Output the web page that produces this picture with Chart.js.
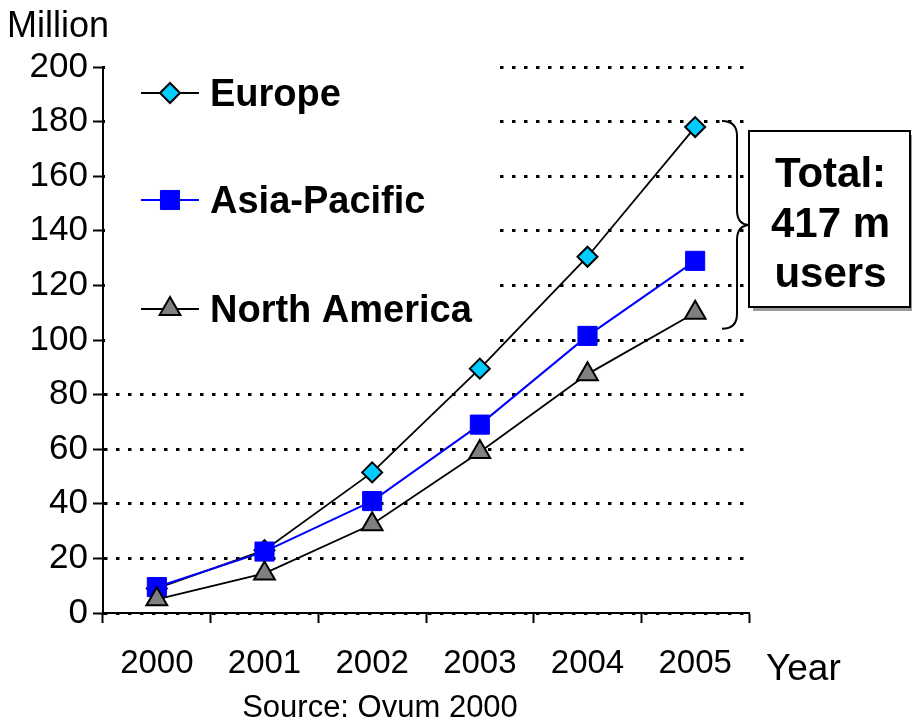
<!DOCTYPE html>
<html>
<head>
<meta charset="utf-8">
<script src="https://cdn.jsdelivr.net/npm/chart.js@4/dist/chart.umd.min.js"></script>
<style>
  html, body { margin: 0; padding: 0; background: #fff; }
  #wrap { width: 912px; height: 721px; position: relative; }
</style>
</head>
<body>
<div id="wrap"><canvas id="c" width="912" height="721"></canvas></div>
<script>
// Mobile users by region, in millions
const years = ['2000', '2001', '2002', '2003', '2004', '2005'];
const europe = [9, 23, 51.5, 89.5, 130.5, 178];
const asiaPacific = [9.5, 22.5, 41, 69, 101.5, 129];
const northAmerica = [5, 14.5, 32.5, 59, 87.5, 110];
const yTickValues = [0, 20, 40, 60, 80, 100, 120, 140, 160, 180, 200];
const seriesNames = ['Europe', 'Asia-Pacific', 'North America'];
const totalLines = ['Total:', '417 m', 'users'];
const unitLabel = 'Million';
const xAxisLabel = 'Year';
const sourceNote = 'Source: Ovum 2000';

const FONT = '"Liberation Sans", Arial, sans-serif';

// Legend panel, annotation brace/box and free text
const decorations = {
  id: 'decorations',
  beforeDatasetsDraw(chart) {
    const ctx = chart.ctx;
    const yS = chart.scales.y;
    ctx.save();
    // white panel behind the legend hides the dotted grid there
    ctx.fillStyle = '#fff';
    ctx.fillRect(chart.chartArea.left + 2, yS.getPixelForValue(200) - 8, 392, yS.getPixelForValue(100) - yS.getPixelForValue(200) + 12);
    ctx.restore();
  },
  afterDatasetsDraw(chart) {
    const ctx = chart.ctx;
    const yS = chart.scales.y;
    ctx.save();

    // legend entries
    const rowY = [93, 200, 309];
    chart.data.datasets.forEach((ds, i) => {
      const y = rowY[i];
      ctx.strokeStyle = ds.borderColor;
      ctx.lineWidth = ds.borderWidth;
      ctx.setLineDash([]);
      ctx.beginPath();
      ctx.moveTo(141, y);
      ctx.lineTo(199, y);
      ctx.stroke();
      ctx.fillStyle = ds.pointBackgroundColor;
      ctx.strokeStyle = ds.pointBorderColor;
      ctx.lineWidth = ds.pointBorderWidth;
      Chart.helpers.drawPoint(ctx, { pointStyle: ds.pointStyle, radius: ds.pointRadius, borderWidth: ds.pointBorderWidth }, 170, y);
      ctx.fillStyle = '#000';
      ctx.font = 'bold 38px ' + FONT;
      ctx.textAlign = 'left';
      ctx.textBaseline = 'alphabetic';
      ctx.fillText(seriesNames[i], 210, y + 13);
    });

    // brace grouping the 2005 values
    const bx = 737;
    const top = yS.getPixelForValue(europe[5]) - 6;
    const bot = yS.getPixelForValue(northAmerica[5]) + 16;
    const mid = (top + bot) / 2;
    ctx.strokeStyle = '#000';
    ctx.lineWidth = 2;
    ctx.beginPath();
    ctx.moveTo(722, top);
    ctx.quadraticCurveTo(bx, top, bx, top + 15);
    ctx.lineTo(bx, mid - 15);
    ctx.quadraticCurveTo(bx, mid, bx + 13, mid);
    ctx.quadraticCurveTo(bx, mid, bx, mid + 15);
    ctx.lineTo(bx, bot - 15);
    ctx.quadraticCurveTo(bx, bot, 722, bot);
    ctx.stroke();

    // total box with shadow
    const bxL = 749, bxT = 131, bxW = 161, bxH = 176;
    ctx.fillStyle = '#9a9a9a';
    ctx.fillRect(bxL + 4, bxT + 4, bxW, bxH);
    ctx.fillStyle = '#fff';
    ctx.fillRect(bxL, bxT, bxW, bxH);
    ctx.strokeRect(bxL, bxT, bxW, bxH);
    ctx.fillStyle = '#000';
    ctx.font = 'bold 42px ' + FONT;
    ctx.textAlign = 'center';
    totalLines.forEach((t, i) => ctx.fillText(t, bxL + bxW / 2 + 1, 187 + i * 50));

    // axis captions and source
    ctx.font = '36px ' + FONT;
    ctx.textAlign = 'left';
    ctx.fillText(unitLabel, 7, 37);
    ctx.font = '37px ' + FONT;
    ctx.fillText(xAxisLabel, 766, 680);
    ctx.font = '31px ' + FONT;
    ctx.textAlign = 'center';
    ctx.fillText(sourceNote, 380, 717);
    ctx.restore();
  }
};

new Chart(document.getElementById('c'), {
  type: 'line',
  data: {
    labels: years,
    datasets: [
      {
        label: seriesNames[0], data: europe, order: 3,
        borderColor: '#000', borderWidth: 1.8,
        pointStyle: 'rectRot', pointRadius: 10, pointBackgroundColor: '#00ccff',
        pointBorderColor: '#000', pointBorderWidth: 2
      },
      {
        label: seriesNames[1], data: asiaPacific, order: 2,
        borderColor: '#0000ff', borderWidth: 2,
        pointStyle: 'rect', pointRadius: 13.5, pointBackgroundColor: '#0000ff',
        pointBorderColor: '#0000ff', pointBorderWidth: 1
      },
      {
        label: seriesNames[2], data: northAmerica, order: 1,
        borderColor: '#000', borderWidth: 1.8,
        pointStyle: 'triangle', pointRadius: 12, pointBackgroundColor: '#808080',
        pointBorderColor: '#000', pointBorderWidth: 2
      }
    ]
  },
  options: {
    responsive: false,
    animation: false,
    devicePixelRatio: 1,
    layout: { padding: { top: 67, right: 163, left: 0, bottom: 0 } },
    plugins: { legend: { display: false }, tooltip: { enabled: false } },
    elements: { line: { tension: 0 } },
    scales: {
      x: {
        offset: true,
        grid: { display: true, offset: true, drawOnChartArea: false, drawTicks: true, tickLength: 10, tickColor: '#000', tickWidth: 2 },
        border: { display: true, color: '#000', width: 2 },
        ticks: { color: '#000', font: { family: FONT, size: 33 }, padding: 21, maxRotation: 0 },
        afterFit(scale) { scale.height = 108; }
      },
      y: {
        min: 0, max: 200,
        afterBuildTicks(scale) { scale.ticks = yTickValues.map(v => ({ value: v })); },
        grid: {
          color: '#000', lineWidth: 3,
          drawTicks: true, tickLength: 10, tickColor: '#000', tickWidth: 2, tickBorderDash: []
        },
        border: { display: true, color: '#000', width: 2, dash: [3.5, 8.5] },
        ticks: { color: '#000', font: { family: FONT, size: 35 }, padding: 5 },
        afterFit(scale) { scale.width = 103; }
      }
    }
  },
  plugins: [decorations]
});
</script>
</body>
</html>
